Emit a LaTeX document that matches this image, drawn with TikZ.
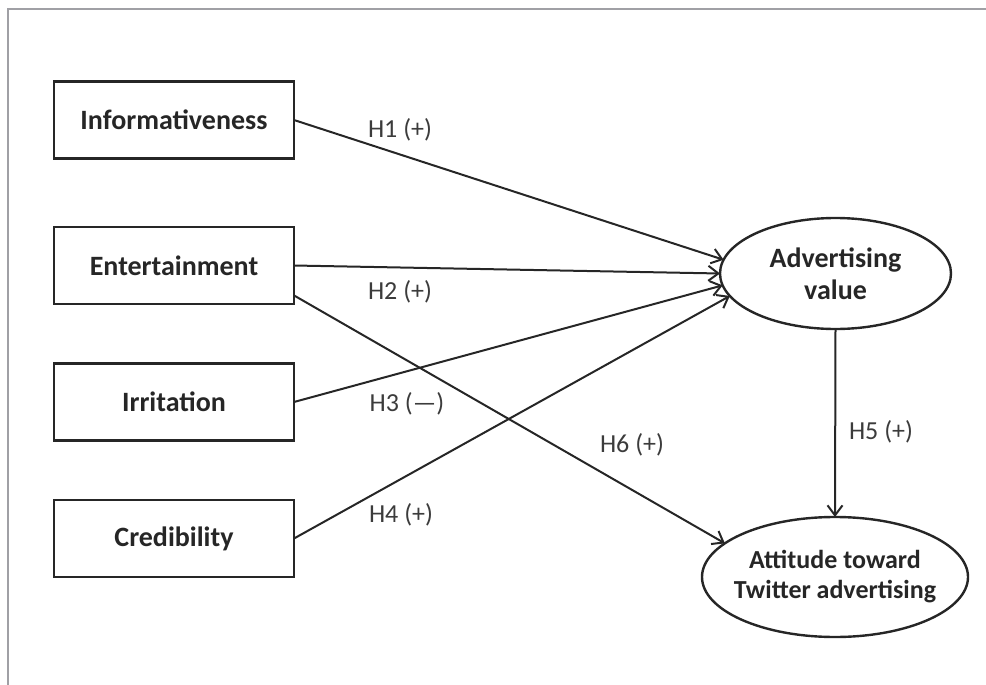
\documentclass[tikz,border=0pt]{standalone}
\usepackage{fontspec}
\setmainfont{Carlito}
\usetikzlibrary{shapes.geometric,arrows.meta}
\definecolor{ink}{HTML}{262626}
\definecolor{framegray}{HTML}{A0A0A5}
\begin{document}
\begin{tikzpicture}[x=1pt,y=-1pt,
  box/.style={draw=ink, line width=2.6pt, minimum width=240pt, minimum height=77pt, inner sep=0pt, outer sep=0pt, font=\fontsize{28}{33}\selectfont\bfseries, text=ink},
  oval/.style={ellipse, draw=ink, line width=2.4pt, inner xsep=-18pt, inner ysep=0pt, outer sep=0pt, align=center, text=ink},
  hyp/.style={font=\fontsize{26}{30}\selectfont, text=ink!90, inner sep=0pt},
  link/.style={draw=ink, line width=2pt, -{Straight Barb[length=10pt,width=15pt,line width=2pt]}}
]
\useasboundingbox (0,0) rectangle (986,685);
\draw[framegray, line width=2pt] (7.5,686) -- (7.5,9.5) -- (987,9.5);

\node[box] (inf) at (174,120) {Informativeness};
\node[box] (ent) at (174,265.5) {Entertainment};
\node[box] (irr) at (174,402) {Irritation};
\node[box] (cre) at (174,538.5) {Credibility};

\node[oval, minimum width=231pt, minimum height=111pt, font=\fontsize{28}{32}\selectfont\bfseries] (adv) at (835.5,273.5) {Advertising\\value};
\node[oval, minimum width=266pt, minimum height=120pt, font=\fontsize{26}{30}\selectfont\bfseries] (att) at (835,577) {Attitude toward\\Twitter advertising};

\draw[link] (inf.east) -- (adv.173.8);
\draw[link] (ent.east) -- (adv.180);
\draw[link] (irr.east) -- (adv.186.7);
\draw[link] (cre.east) -- (adv.192);
\draw[link] (ent.-14.7) -- (att.163.8);
\draw[link] (adv.south) -- (att.north);

\node[hyp] (h1) at (400,130) {H1 (+)};
\node[hyp] (h2) at (400,292) {H2 (+)};
\node[hyp] (h3) at (407,404) {H3 (---)};
\node[hyp] (h4) at (401,515) {H4 (+)};
\node[hyp] (h5) at (881,432) {H5 (+)};
\node[hyp] (h6) at (632,445) {H6 (+)};
\end{tikzpicture}
\end{document}
